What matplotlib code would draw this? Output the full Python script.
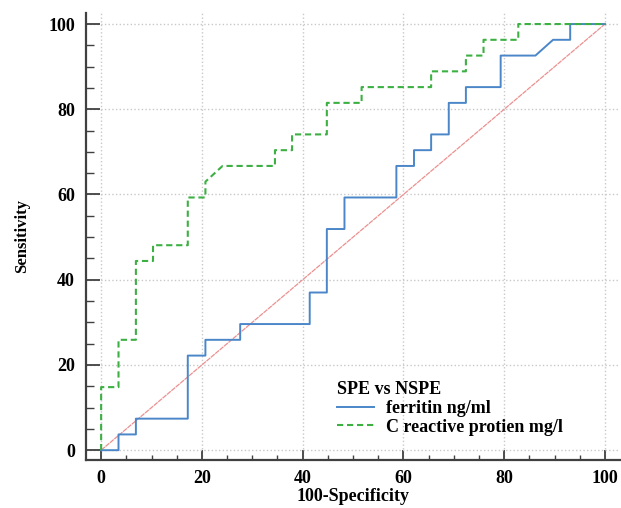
import matplotlib
matplotlib.use("Agg")
import matplotlib.pyplot as plt
from matplotlib.ticker import MultipleLocator

# ROC step coordinates (100-Specificity, Sensitivity)
ferritin_x = [0, 3.45, 3.45, 6.9, 6.9, 17.2, 17.2, 20.7, 20.7, 27.6, 27.6, 41.4, 41.4,
              44.8, 44.8, 48.3, 48.3, 58.6, 58.6, 62.1, 62.1, 65.5, 65.5, 69.0, 69.0,
              72.4, 72.4, 79.3, 79.3, 86.2, 89.7, 93.1, 93.1, 100]
ferritin_y = [0, 0, 3.7, 3.7, 7.4, 7.4, 22.2, 22.2, 25.9, 25.9, 29.6, 29.6, 37.0,
              37.0, 51.9, 51.9, 59.3, 59.3, 66.7, 66.7, 70.4, 70.4, 74.1, 74.1, 81.5,
              81.5, 85.2, 85.2, 92.6, 92.6, 96.3, 96.3, 100, 100]

crp_x = [0, 0, 3.45, 3.45, 6.9, 6.9, 10.3, 10.3, 17.2, 17.2, 20.7, 20.7, 24.1, 34.5,
         34.5, 37.9, 37.9, 44.8, 44.8, 51.7, 51.7, 65.5, 65.5, 72.4, 72.4, 75.9, 75.9,
         82.8, 82.8, 100]
crp_y = [0, 14.8, 14.8, 25.9, 25.9, 44.4, 44.4, 48.1, 48.1, 59.3, 59.3, 63.0, 66.7, 66.7,
         70.4, 70.4, 74.1, 74.1, 81.5, 81.5, 85.2, 85.2, 88.9, 88.9, 92.6, 92.6, 96.3,
         96.3, 100, 100]

ref_x = [0, 100]
ref_y = [0, 100]

plt.rcParams['font.family'] = ['Liberation Serif', 'DejaVu Serif']
plt.rcParams['font.weight'] = 'bold'

fig = plt.figure(figsize=(6.21, 5.08), dpi=100)
ax = fig.add_axes([0.1385, 0.0945, 0.86, 0.88])

ax.plot(ref_x, ref_y, color='#ec9090', lw=0.9, ls=(0, (4, 0.6)), zorder=2)
ax.plot(ferritin_x, ferritin_y, color='#4a86c8', lw=1.4, label='ferritin ng/ml', zorder=3)
ax.plot(crp_x, crp_y, color='#3cb043', lw=1.5, ls=(0, (3, 1.8)),
        label='C reactive protien mg/l', zorder=4)

ax.set_xlim(-3, 103)
ax.set_ylim(-2.3, 102.6)
ax.xaxis.set_major_locator(MultipleLocator(20))
ax.yaxis.set_major_locator(MultipleLocator(20))
ax.xaxis.set_minor_locator(MultipleLocator(5))
ax.yaxis.set_minor_locator(MultipleLocator(5))
ax.grid(True, which='major', color='#c8c8c8', ls=':', lw=1.0)

for s in ['top', 'right']:
    ax.spines[s].set_visible(False)
for s in ['left', 'bottom']:
    ax.spines[s].set_color('#404040')
    ax.spines[s].set_linewidth(1.6)

ax.tick_params(axis='y', which='major', direction='in', length=10, width=1.3,
               color='#404040', pad=8, labelsize=13)
ax.tick_params(axis='y', which='minor', direction='in', length=6, width=1.0,
               color='#404040')
ax.tick_params(axis='x', which='major', direction='in', length=7, width=1.3,
               color='#404040', pad=7, labelsize=13)
ax.tick_params(axis='x', which='minor', direction='in', length=3.5, width=1.0,
               color='#404040')
for lab in ax.get_xticklabels() + ax.get_yticklabels():
    lab.set_fontweight('bold')

ax.set_xlabel('100-Specificity', fontsize=13, fontweight='bold', labelpad=1)
ax.set_ylabel('Sensitivity', fontsize=12, fontweight='bold', labelpad=13)

leg = ax.legend(title='SPE vs NSPE', loc='lower left', bbox_to_anchor=(0.454, 0.034),
                frameon=False, fontsize=13, title_fontsize=13, handlelength=2.0,
                handletextpad=0.66, borderpad=0, labelspacing=0.1,
                alignment='left')
leg.get_title().set_fontweight('bold')
for t in leg.get_texts():
    t.set_fontweight('bold')

fig.savefig('out.png', dpi=100)
